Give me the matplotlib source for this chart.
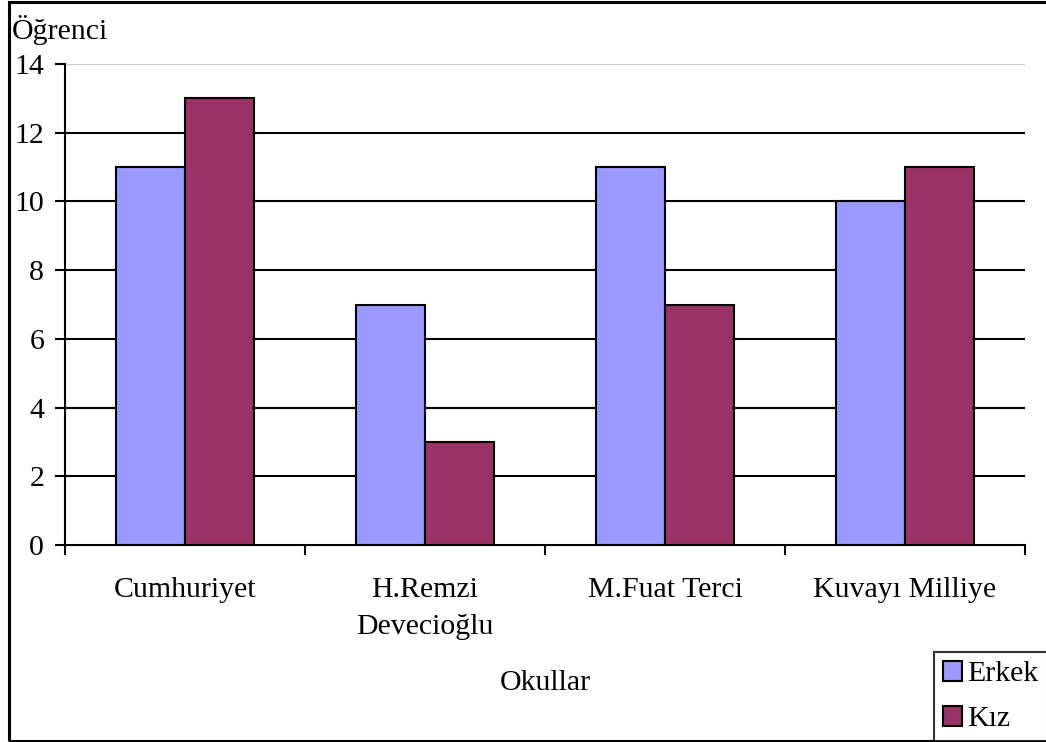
import matplotlib.pyplot as plt
from matplotlib.patches import Rectangle

plt.rcParams['font.family'] = ['Liberation Serif', 'DejaVu Serif']

okullar = ["Cumhuriyet", "H.Remzi\nDevecioğlu", "M.Fuat Terci", "Kuvayı Milliye"]
erkek = [11, 7, 11, 10]
kiz = [13, 3, 7, 11]

FS = 21.5
W, H = 1046, 742
fig = plt.figure(figsize=(W / 100, H / 100), dpi=100)
ax = fig.add_axes([65 / W, 1 - 545 / H, 960 / W, (545 - 64) / H])

w = 1 / 3.5
x = list(range(len(okullar)))
ax.bar([i - w / 2 for i in x], erkek, w, color="#9999FF", edgecolor="black", linewidth=1.5, label="Erkek", zorder=3)
ax.bar([i + w / 2 for i in x], kiz, w, color="#993366", edgecolor="black", linewidth=1.5, label="Kız", zorder=3)

ax.set_xlim(-0.5, 3.5)
ax.set_ylim(0, 14)
ax.set_yticks(range(0, 15, 2))
for yv in range(2, 14, 2):
    ax.axhline(yv, color="black", linewidth=1.5, zorder=1)
ax.axhline(14, color="#c8c8c8", linewidth=1.5, zorder=1)

ax.set_xticks([-0.5, 0.5, 1.5, 2.5, 3.5])
ax.set_xticklabels([])
ax.set_xticks(x, minor=True)
ax.set_xticklabels(okullar, minor=True, fontsize=FS, linespacing=1.55)
ax.tick_params(axis="x", which="major", direction="out", length=7, width=1.5)
ax.tick_params(axis="x", which="minor", length=0, pad=23)
ax.tick_params(axis="y", direction="out", length=7, width=1.5, labelsize=FS, pad=8)

for s in ["top", "right"]:
    ax.spines[s].set_visible(False)
ax.spines["left"].set_linewidth(1.5)
ax.spines["bottom"].set_linewidth(1.5)

fig.text(12 / W, 1 - 30 / H, "Öğrenci", fontsize=FS, va="center", ha="left")
fig.text(545 / W, 1 - 683 / H, "Okullar", fontsize=FS, va="center", ha="center")

leg = fig.legend(loc="upper left", bbox_to_anchor=(934 / W, 1 - 652 / H), fontsize=FS,
                 frameon=True, fancybox=False, handlelength=0.65, handleheight=0.65,
                 handletextpad=0.15, borderpad=0.3, labelspacing=0.62, borderaxespad=0)
leg.get_frame().set_edgecolor("black")
leg.get_frame().set_linewidth(1.5)

fig.patches.append(Rectangle((9 / W, 1 / H), 1.2, 1 - 3 / H, transform=fig.transFigure,
                             fill=False, edgecolor="black", linewidth=2.2))

fig.savefig("out.png", dpi=100)
